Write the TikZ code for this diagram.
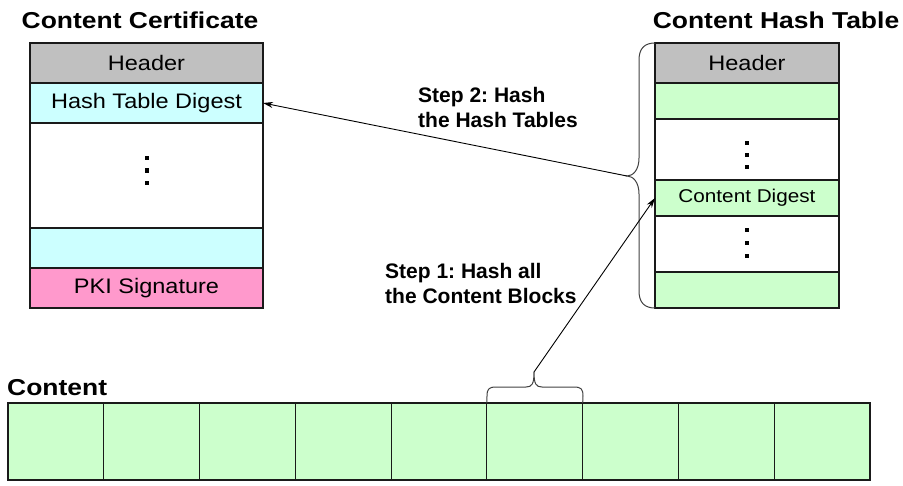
\documentclass[tikz,border=0pt]{standalone}
\usepackage{fontspec}
\setmainfont{Liberation Sans}
\newfontfamily\bodyf{Liberation Sans}[FakeStretch=1.12]
\newfontfamily\ttlf{Liberation Sans Bold}[FakeStretch=1.15]
\newfontfamily\stepf{Liberation Sans Bold}
\usetikzlibrary{arrows.meta}
\definecolor{hdrgray}{HTML}{C0C0C0}
\definecolor{cyanrow}{HTML}{CCFFFF}
\definecolor{pinkrow}{HTML}{FF99CC}
\definecolor{greenrow}{HTML}{CCFFCC}
\definecolor{edge}{HTML}{1A1A1A}
\tikzset{
  row/.style={draw=edge, line width=1.2pt, inner sep=0pt, outer sep=0pt, anchor=center,
    font=\bodyf\fontsize{21}{25}\selectfont},
  certrow/.style={row, minimum width=233pt},
  tabrow/.style={row, minimum width=184pt},
  blk/.style={draw=edge, line width=1.1pt, fill=greenrow, inner sep=0pt, outer sep=0pt,
    minimum width=95.78pt, minimum height=77pt, anchor=north west},
  ttl/.style={font=\ttlf\fontsize{23}{27}\selectfont, inner sep=0pt},
  steplbl/.style={font=\stepf\frenchspacing\fontsize{21}{25.5}\selectfont, inner sep=0pt, anchor=base west},
  arr/.style={-{Stealth[length=10pt,width=6pt]}, line width=0.9pt, draw=black},
  brc/.style={draw=black!75, line width=1pt},
  dotsq/.style={fill=black}
}
\begin{document}
\begin{tikzpicture}[x=1pt,y=-1pt]
\useasboundingbox (0,0) rectangle (903,485);

% titles
\node[ttl, anchor=base] (tcert) at (140,28) {Content Certificate};
\node[ttl, anchor=base] (ttab) at (776,28) {Content Hash Table};
\node[ttl, anchor=base west] (tcont) at (7,395) {Content};

% content certificate
\node[certrow, fill=hdrgray, minimum height=40pt] (chdr) at (146.5,63) {Header};
\node[certrow, fill=cyanrow, minimum height=40pt] (chtd) at (146.5,103) {Hash Table Digest};
\node[certrow, fill=white, minimum height=105pt] (cwht) at (146.5,175.5) {};
\node[certrow, fill=cyanrow, minimum height=40pt] (ccyn) at (146.5,248) {};
\node[certrow, fill=pinkrow, minimum height=40pt] (cpki) at (146.5,288) {PKI Signature};
\foreach \y in {158,170.5,183} \fill[dotsq] (144.8,\y-2.3) rectangle +(4.6,4.6);

% content hash table
\node[tabrow, fill=hdrgray, minimum height=40pt] (thdr) at (747,63) {Header};
\node[tabrow, fill=greenrow, minimum height=36pt] (tg1) at (747,101) {};
\node[tabrow, fill=white, minimum height=61pt] (tw1) at (747,149.5) {};
\node[tabrow, fill=greenrow, minimum height=36pt, font=\bodyf\fontsize{18.5}{22}\selectfont] (tcd) at (747,198) {Content Digest};
\node[tabrow, fill=white, minimum height=56pt] (tw2) at (747,244) {};
\node[tabrow, fill=greenrow, minimum height=36pt] (tg2) at (747,290) {};
\foreach \y in {143,155,167,230,243,256} \fill[dotsq] (744.7,\y-2.3) rectangle +(4.6,4.6);

% content blocks
\foreach \i in {1,...,9} {
  \node[blk] (blk\i) at ({8+95.78*(\i-1)},403) {};
}

% brace over the hash table
\coordinate (tbt) at (627,176);
\draw[brc] (thdr.north west) .. controls (645,43) and (639,48) .. (639,60) -- (639,158)
  .. controls (639,170) and (633,176) .. (tbt)
  .. controls (633,176) and (639,182) .. (639,194) -- (639,291)
  .. controls (639,303) and (645,308) .. (tg2.south west);

% brace over one content block
\coordinate (cbt) at (534,372);
\draw[brc] (blk6.north west) -- (487,396) .. controls (487,389) and (489,387) .. (496,387) -- (526,387)
  .. controls (532,387) and (534,384) .. (cbt)
  .. controls (534,384) and (536,387) .. (542,387) -- (574,387)
  .. controls (581,387) and (583,389) .. (583,396) -- (blk6.north east);

% arrows
\draw[arr] (tbt) -- (chtd.east);
\draw[arr] (cbt) -- (tcd.west);

% step labels
\node[steplbl] (s2) at (418,102) {\begin{tabular}[t]{@{}l@{}}Step 2: Hash\\the Hash Tables\end{tabular}};
\node[steplbl] (s1) at (385,278) {\begin{tabular}[t]{@{}l@{}}Step 1: Hash all\\the Content Blocks\end{tabular}};
\end{tikzpicture}
\end{document}
